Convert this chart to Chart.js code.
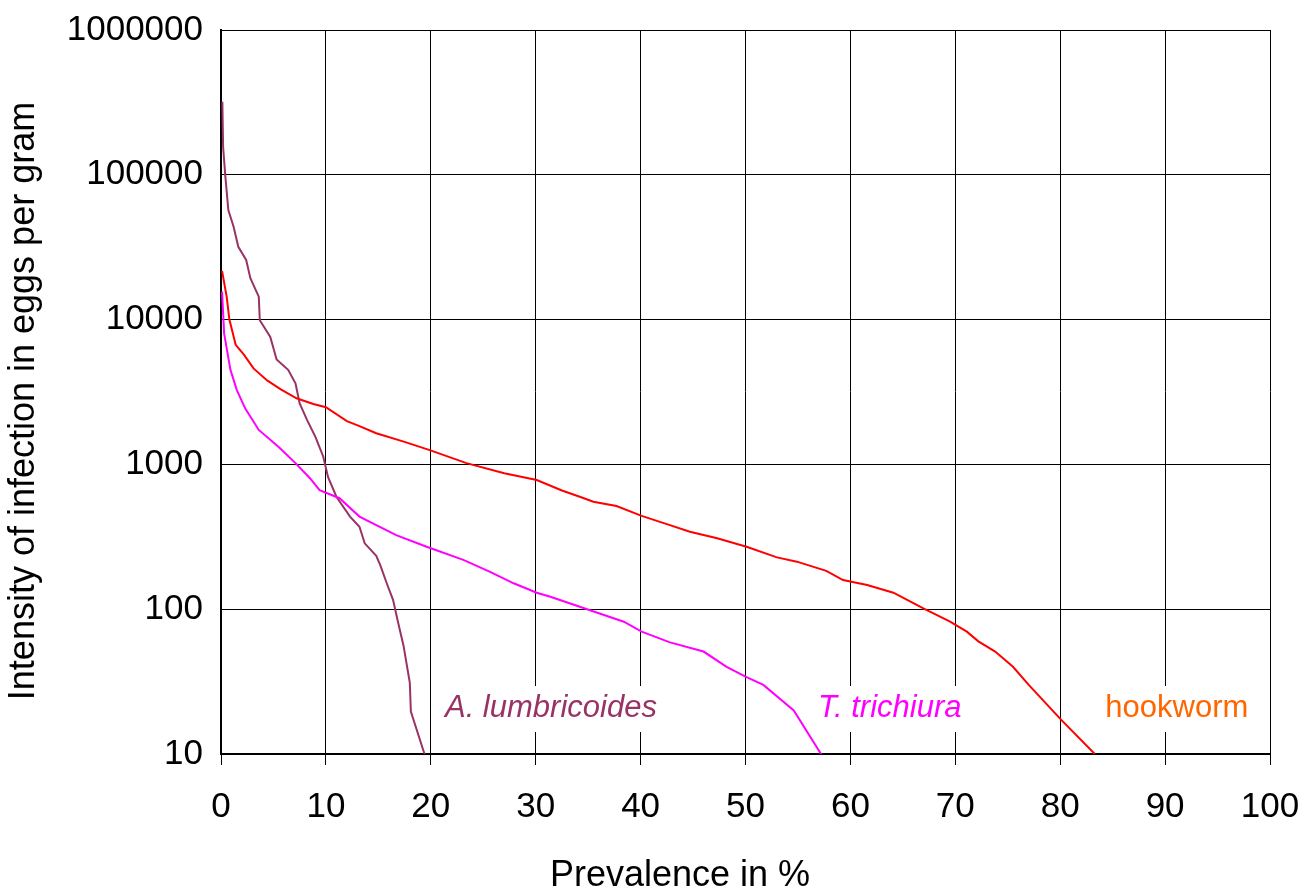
<!DOCTYPE html>
<html>
<head>
<meta charset="utf-8">
<script src="https://cdn.jsdelivr.net/npm/chart.js@4"></script>
<style>
    html, body { margin: 0; padding: 0; background: #ffffff; }
    #wrap { width: 1300px; height: 888px; position: relative; }
</style>
</head>
<body>
<div id="wrap"><canvas id="wormChart" width="1300" height="888"></canvas></div>
<script>
// values (prevalence %, eggs per gram)
const hookPrev = [0.1, 0.54, 0.8, 1.4, 2.2, 3.1, 4.4, 5.7, 7.2, 8.8, 10.0, 12.0, 13.2, 14.8, 17.5, 19.9, 23.4, 27.0, 30.1, 32.5, 34.2, 35.5, 37.7, 40.1, 42.5, 44.7, 47.3, 50.1, 53.0, 54.9, 57.7, 59.3, 61.6, 64.1, 67.0, 68.4, 69.5, 71.1, 72.2, 73.8, 75.5, 77.0, 80.1, 83.3];
const hookEpg = [21700, 14400, 10000, 6700, 5700, 4600, 3800, 3300, 2860, 2610, 2480, 1990, 1840, 1640, 1430, 1255, 1020, 870, 780, 660, 598, 552, 516, 441, 387, 343, 309, 270, 228, 213, 184, 159, 147, 130, 101, 90, 82, 70, 60, 51, 40, 30, 17.2, 10];

const trichPrev = [0.1, 0.3, 0.9, 1.5, 2.3, 3.6, 5.5, 7.1, 8.5, 9.4, 11.3, 13.2, 16.7, 19.6, 23.1, 25.6, 27.9, 30.1, 31.4, 34.2, 38.4, 40.1, 42.8, 46.0, 48.2, 50.1, 51.7, 54.6, 57.2];
const trichEpg = [15600, 8000, 4500, 3270, 2440, 1730, 1320, 1020, 800, 665, 584, 436, 325, 270, 219, 182, 151, 130, 122, 104, 82, 70, 59, 51, 40, 34, 30, 20, 10];

const ascPrev = [0.13, 0.2, 0.4, 0.7, 1.2, 1.65, 2.4, 2.8, 3.6, 3.7, 4.7, 5.3, 6.4, 7.1, 7.5, 8.2, 9.0, 9.75, 10.2, 11.0, 12.3, 13.2, 13.7, 14.8, 15.2, 15.8, 16.4, 16.9, 17.4, 18.0, 18.1, 19.4];
const ascEpg = [320000, 156000, 100000, 57000, 43800, 31800, 25800, 19300, 14400, 9900, 7600, 5300, 4500, 3630, 2640, 2030, 1550, 1130, 820, 598, 436, 371, 285, 234, 200, 151, 116, 80, 56, 31, 19.6, 10];

const yTicks = [10, 100, 1000, 10000, 100000, 1000000];
const seriesNames = ['A. lumbricoides', 'T. trichiura', 'hookworm'];

const FONT = '"Liberation Sans", Arial, sans-serif';

function toPoints(xs, ys) {
    return xs.map((x, i) => ({ x: x, y: ys[i] }));
}

// in-plot series labels on white boxes (left edge in %, baseline in epg)
const labelBoxes = {
    id: 'labelBoxes',
    beforeDatasetsDraw(chart) {
        const ctx = chart.ctx;
        const xs = chart.scales.x, ys = chart.scales.y;
        const spots = [
            { text: seriesNames[0], x: 21.35, color: '#993366', italic: true },
            { text: seriesNames[1], x: 56.9, color: '#ff00ff', italic: true },
            { text: seriesNames[2], x: 84.3, color: '#ff6600', italic: false }
        ];
        ctx.save();
        spots.forEach(s => {
            ctx.font = (s.italic ? 'italic ' : '') + '31px ' + FONT;
            const left = xs.getPixelForValue(s.x);
            const base = ys.getPixelForValue(18);
            const w = ctx.measureText(s.text).width;
            ctx.fillStyle = '#ffffff';
            ctx.fillRect(left - 8, base - 31, w + 16, 46);
            ctx.fillStyle = s.color;
            ctx.textBaseline = 'alphabetic';
            ctx.textAlign = 'left';
            ctx.fillText(s.text, left, base);
        });
        ctx.restore();
    }
};

// axis titles, placed like the original sheet
const axisTitles = {
    id: 'axisTitles',
    afterDraw(chart) {
        const ctx = chart.ctx;
        ctx.save();
        ctx.fillStyle = '#000000';
        ctx.font = '36px ' + FONT;
        ctx.textAlign = 'center';
        ctx.textBaseline = 'alphabetic';
        ctx.fillText('Prevalence in %', 680, 886);
        ctx.translate(34, 401);
        ctx.rotate(-Math.PI / 2);
        ctx.fillText('Intensity of infection in eggs per gram', 0, 0);
        ctx.restore();
    }
};

const ctx = document.getElementById('wormChart').getContext('2d');
const wormChart = new Chart(ctx, {
    type: 'line',
    data: {
        datasets: [
            {
                label: seriesNames[2],
                data: toPoints(hookPrev, hookEpg),
                borderColor: '#ff0000',
                borderWidth: 2,
                pointRadius: 0,
                tension: 0,
                fill: false
            },
            {
                label: seriesNames[1],
                data: toPoints(trichPrev, trichEpg),
                borderColor: '#ff00ff',
                borderWidth: 2,
                pointRadius: 0,
                tension: 0,
                fill: false
            },
            {
                label: seriesNames[0],
                data: toPoints(ascPrev, ascEpg),
                borderColor: '#993366',
                borderWidth: 2,
                pointRadius: 0,
                tension: 0,
                fill: false
            }
        ]
    },
    options: {
        responsive: false,
        animation: false,
        devicePixelRatio: 1,
        layout: {
            padding: { top: 30, right: 30, bottom: 0, left: 0 }
        },
        plugins: {
            legend: { display: false },
            tooltip: { enabled: false },
            title: { display: false }
        },
        scales: {
            x: {
                type: 'linear',
                min: 0,
                max: 100,
                ticks: {
                    stepSize: 10,
                    color: '#000000',
                    padding: 21,
                    font: { family: FONT, size: 35 }
                },
                grid: {
                    color: '#000000',
                    lineWidth: 1,
                    drawTicks: true,
                    tickLength: 11
                },
                border: { color: '#000000', width: 2 },
                afterFit: s => {
                    s.height = 134;
                    s.paddingLeft = 0;
                    s.paddingRight = 0;
                }
            },
            y: {
                type: 'logarithmic',
                min: 10,
                max: 1000000,
                afterBuildTicks: s => { s.ticks = yTicks.map(v => ({ value: v })); },
                ticks: {
                    color: '#000000',
                    padding: 18,
                    font: { family: FONT, size: 35 },
                    callback: v => String(v)
                },
                grid: {
                    color: '#000000',
                    lineWidth: 1,
                    drawTicks: false
                },
                border: { color: '#000000', width: 2 },
                afterFit: s => {
                    s.width = 221;
                    s.paddingTop = 0;
                    s.paddingBottom = 0;
                }
            }
        }
    },
    plugins: [labelBoxes, axisTitles]
});
</script>
</body>
</html>
